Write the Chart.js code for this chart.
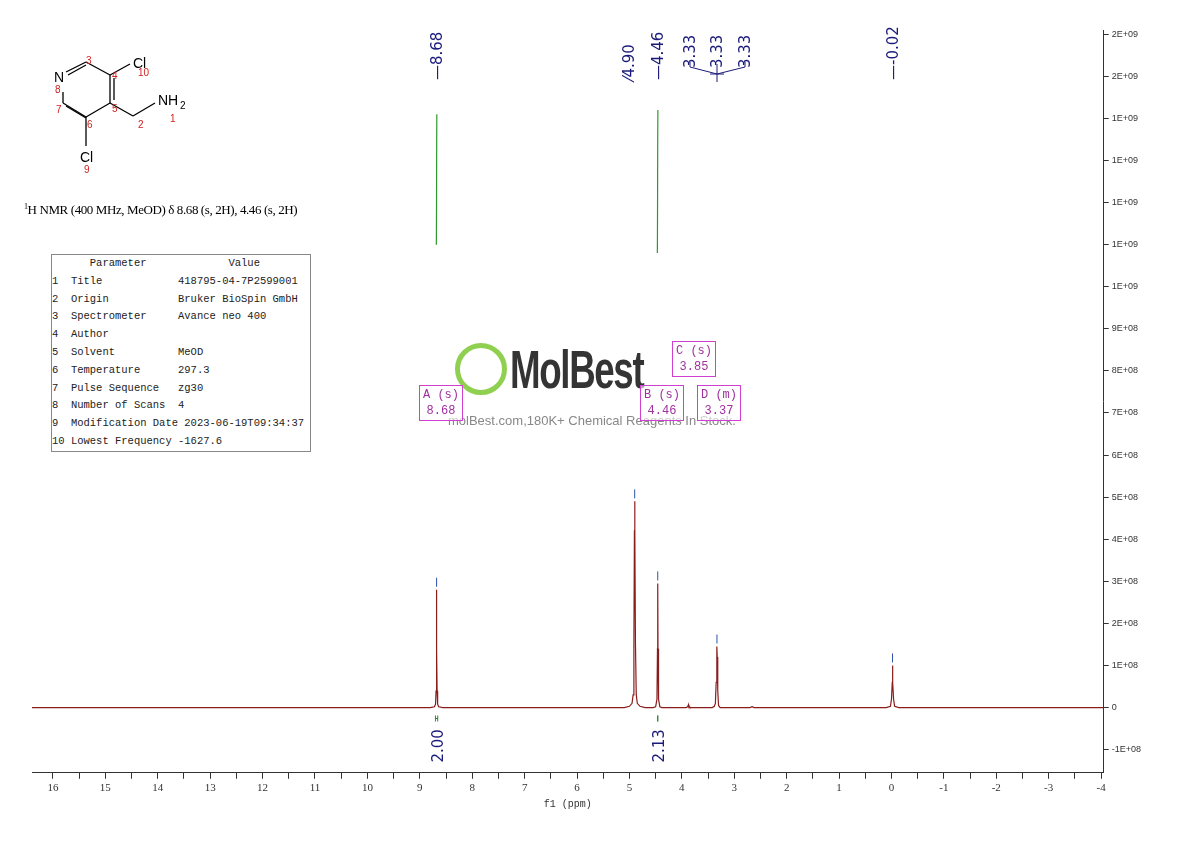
<!DOCTYPE html>
<html><head><meta charset="utf-8">
<script src="https://cdn.jsdelivr.net/npm/chart.js@4"></script>
<style>
body{margin:0;background:#fff;width:1190px;height:841px;overflow:hidden;position:relative;font-family:"Liberation Serif",serif}
#wrap{position:absolute;left:0;top:0;width:1190px;height:841px}
#tbl{position:absolute;left:51px;top:254px;width:258px;border:1px solid #888;font-family:"Liberation Mono",monospace;font-size:10.5px;color:#222;background:#fff}
#tbl div{height:17.8px;line-height:17.8px;white-space:pre}
.box{position:absolute;border:1px solid #d040d0;color:#a030a0;font-family:"Liberation Mono",monospace;font-size:12px;text-align:center;line-height:16px;padding:1px 3px;background:rgba(255,255,255,0.6)}
</style></head><body>
<div id="wrap"><canvas id="c" width="1190" height="841"></canvas></div>
<svg style="position:absolute;left:0;top:0" width="360" height="230" font-family="Liberation Sans,Arial" >
 <g stroke="#000" stroke-width="1.3" fill="none">
  <line x1="66" y1="72" x2="86" y2="62"/><line x1="86" y1="62" x2="110" y2="75"/>
  <line x1="110" y1="75" x2="110" y2="103"/><line x1="114" y1="78" x2="114" y2="100"/>
  <line x1="110" y1="103" x2="86" y2="117"/><line x1="86" y1="117" x2="63" y2="103"/>
  <line x1="66" y1="106" x2="86" y2="118"/><line x1="63" y1="103" x2="63" y2="92"/>
  <line x1="68" y1="75" x2="86" y2="65"/>
  <line x1="110" y1="75" x2="130" y2="64"/><line x1="110" y1="103" x2="133" y2="116"/>
  <line x1="133" y1="116" x2="155" y2="103"/><line x1="86" y1="117" x2="86" y2="146"/>
 </g>
 <text x="54" y="82" font-size="14">N</text>
 <text x="133" y="68" font-size="14">Cl</text>
 <text x="158" y="105" font-size="14">NH</text><text x="180" y="109" font-size="10">2</text>
 <text x="80" y="162" font-size="14">Cl</text>
 <g fill="#d02020" font-size="10">
  <text x="86" y="64">3</text><text x="112" y="79">4</text><text x="138" y="76">10</text>
  <text x="55" y="93">8</text><text x="56" y="113">7</text><text x="112" y="112">5</text>
  <text x="87" y="128">6</text><text x="138" y="128">2</text><text x="170" y="122">1</text><text x="84" y="173">9</text>
 </g>
 <text x="24" y="214" font-size="13" font-family="Liberation Serif" letter-spacing="-0.4"><tspan font-size="8" dy="-5">1</tspan><tspan dy="5">H NMR (400 MHz, MeOD) δ 8.68 (s, 2H), 4.46 (s, 2H)</tspan></text>
</svg>
<div id="tbl">
<div>      Parameter             Value</div>
<div>1  Title            418795-04-7P2599001</div>
<div>2  Origin           Bruker BioSpin GmbH</div>
<div>3  Spectrometer     Avance neo 400</div>
<div>4  Author</div>
<div>5  Solvent          MeOD</div>
<div>6  Temperature      297.3</div>
<div>7  Pulse Sequence   zg30</div>
<div>8  Number of Scans  4</div>
<div>9  Modification Date 2023-06-19T09:34:37</div>
<div>10 Lowest Frequency -1627.6</div>
</div>
<div style="position:absolute;left:455px;top:343px;width:52px;height:52px;border:5px solid #7dc832;border-radius:50%;box-sizing:border-box;opacity:.85"></div>
<div style="position:absolute;left:510px;top:338px;font-family:'Liberation Sans',Arial;font-size:54px;font-weight:bold;color:#111;letter-spacing:-2px;opacity:.85;transform:scaleX(0.68);transform-origin:left top">MolBest</div>
<div style="position:absolute;left:448px;top:413px;font-family:'Liberation Sans',Arial;font-size:13px;color:#888">molBest.com,180K+ Chemical Reagents In Stock.</div>
<div class="box" style="left:419px;top:385px">A (s)<br>8.68</div>
<div class="box" style="left:640px;top:385px">B (s)<br>4.46</div>
<div class="box" style="left:672px;top:341px">C (s)<br>3.85</div>
<div class="box" style="left:697px;top:385px">D (m)<br>3.37</div>
<script>
// spectrum points: [ppm, intensity]
const specX = [16.4, 8.80, 8.72, 8.70, 8.69, 8.685, 8.68, 8.675, 8.67, 8.66, 8.64, 8.56,
  5.10, 5.00, 4.95, 4.93, 4.915, 4.905, 4.90, 4.895, 4.885, 4.87, 4.85, 4.80, 4.70,
  4.55, 4.50, 4.475, 4.465, 4.46, 4.455, 4.445, 4.42, 4.38,
  3.92, 3.89, 3.88, 3.875, 3.865, 3.86, 3.85, 3.84, 3.80,
  3.42, 3.38, 3.36, 3.345, 3.335, 3.33, 3.325, 3.315, 3.30, 3.27,
  2.70, 2.66, 2.64, 2.62, 0.10, 0.02, 0.00, -0.015, -0.02, -0.025, -0.04, -0.06, -0.14, -4.05];
const specY = [0, 0, 2e6, 8e6, 4e7, 1.4e8, 2.8e8, 1.4e8, 4e7, 8e6, 2e6, 0,
  0, 3e6, 1e7, 3e7, 1.5e8, 4.2e8, 4.9e8, 4.2e8, 1.5e8, 3e7, 1e7, 3e6, 0,
  0, 2e6, 2e7, 1.4e8, 2.95e8, 1.4e8, 2e7, 2e6, 0,
  0, 2e6, 5e6, 2e6, 6e6, 3e6, 1e6, 0, 0,
  0, 3e6, 1e7, 6e7, 1.3e8, 1.45e8, 1.2e8, 4e7, 5e6, 0,
  0, 2e6, 1e6, 0, 0, 3e6, 2e7, 6e7, 1.0e8, 6e7, 2e7, 3e6, 0, 0];
// integral curves
const int1X = [8.685, 8.683, 8.680, 8.677, 8.675];
const int1Y = [1.10e9, 1.13e9, 1.25e9, 1.37e9, 1.41e9];
const int2X = [4.468, 4.466, 4.463, 4.460, 4.457];
const int2Y = [1.08e9, 1.11e9, 1.22e9, 1.36e9, 1.42e9];
const peakLabels = ["8.68", "4.90", "4.46", "3.33", "3.33", "3.33", "-0.02"];
const integrals = [{from: 8.74, to: 8.62, label: "2.00"}, {from: 4.50, to: 4.42, label: "2.13"}];

const pts = (xs, ys) => xs.map((x, i) => ({x, y: ys[i]}));
const fmt = v => { if (Math.abs(v) < 1) return "0"; const s = v.toExponential(0).split("e"); const e = parseInt(s[1]); return s[0] + "E" + (e < 0 ? "-" : "+") + String(Math.abs(e)).padStart(2, "0"); };

const annot = {
  id: "annot",
  afterDraw(ch) {
    const c = ch.ctx, xs = ch.scales.x, ys = ch.scales.y;
    c.save();
    c.fillStyle = "#1a1a7a"; c.strokeStyle = "#1a1a7a"; c.lineWidth = 1;
    c.font = "15px 'DejaVu Sans'";
    const lx = [xs.getPixelForValue(8.68), xs.getPixelForValue(4.90) - 6, xs.getPixelForValue(4.46), 690, 717, 745, xs.getPixelForValue(-0.02)];
    peakLabels.forEach((t, i) => {
      const grp = i >= 3 && i <= 5;
      c.save(); c.translate(lx[i] + 5, grp ? 68 : 80); c.rotate(-Math.PI / 2);
      const prefix = grp ? "" : (i === 1 ? "⁄" : "—");
      c.textAlign = "left"; c.fillText(prefix + t, 0, 0); c.restore();
    });
    c.beginPath(); c.moveTo(690, 62); c.lineTo(690, 67); c.lineTo(717, 74); c.lineTo(745, 67); c.lineTo(745, 62);
    c.moveTo(717, 64); c.lineTo(717, 82); c.moveTo(710, 74); c.lineTo(724, 74); c.stroke();
    c.strokeStyle = "#3050b0";
    [[8.68, 2.8e8], [4.90, 4.9e8], [4.46, 2.95e8], [3.33, 1.45e8], [-0.02, 1.0e8]].forEach(([p, h]) => {
      const x = xs.getPixelForValue(p), y = ys.getPixelForValue(h);
      c.beginPath(); c.moveTo(x, y - 3); c.lineTo(x, y - 12); c.stroke();
    });
    integrals.forEach(g => {
      const x1 = xs.getPixelForValue(g.from), x2 = xs.getPixelForValue(g.to), y = ys.getPixelForValue(-2.6e7);
      c.strokeStyle = "#2a8a2a"; c.beginPath(); c.moveTo(x1 + 2, y); c.lineTo(x2 - 2, y);
      c.moveTo(x1 + 2, y - 3); c.lineTo(x1 + 2, y + 3); c.moveTo(x2 - 2, y - 3); c.lineTo(x2 - 2, y + 3); c.stroke();
      const xm = (x1 + x2) / 2;
      c.save(); c.translate(xm + 6, y + 44); c.rotate(-Math.PI / 2);
      c.fillStyle = "#1a1a7a"; c.font = "15px 'DejaVu Sans'"; c.fillText(g.label, 0, 0); c.restore();
    });
    c.restore();
  }
};

new Chart(document.getElementById("c"), {
  type: "scatter",
  data: { datasets: [
    { data: pts(specX, specY), showLine: true, borderColor: "#8b1c1c", borderWidth: 1.2, pointRadius: 0, tension: 0 },
    { data: pts(int1X, int1Y), showLine: true, borderColor: "#2a9a2a", borderWidth: 1.2, pointRadius: 0, tension: 0.4 },
    { data: pts(int2X, int2Y), showLine: true, borderColor: "#2a9a2a", borderWidth: 1.2, pointRadius: 0, tension: 0.4 }
  ]},
  options: {
    responsive: false, animation: false, devicePixelRatio: 1,
    layout: { padding: { left: 32, right: 46, top: 30, bottom: 31 } },
    plugins: { legend: { display: false }, tooltip: { enabled: false } },
    scales: {
      x: { type: "linear", reverse: true, min: -4.05, max: 16.4,
        grid: { display: true, drawOnChartArea: false, drawTicks: true, tickLength: 6, color: "#333" },
        border: { color: "#333" },
        afterBuildTicks: s => { s.ticks = []; for (let v = 16; v >= -4; v -= 0.5) s.ticks.push({value: v}); },
        ticks: { autoSkip: false, maxRotation: 0, color: "#333", font: { family: "Liberation Serif", size: 11 },
          callback: (v) => Number.isInteger(v) ? String(v) : "" },
        title: { display: true, text: "f1 (ppm)", color: "#333", font: { family: "Liberation Mono", size: 10 }, padding: 0 } },
      y: { position: "right", min: -1.55e8, max: 1.61e9,
        grid: { display: true, drawOnChartArea: false, tickLength: 5, color: "#333" },
        border: { color: "#333" },
        afterBuildTicks: s => { s.ticks = []; for (let k = -1; k <= 16; k++) s.ticks.push({value: k * 1e8}); },
        ticks: { autoSkip: false, color: "#333", font: { family: "Liberation Sans", size: 9 }, callback: v => fmt(v) } }
    }
  },
  plugins: [annot]
});
</script>
</body></html>
